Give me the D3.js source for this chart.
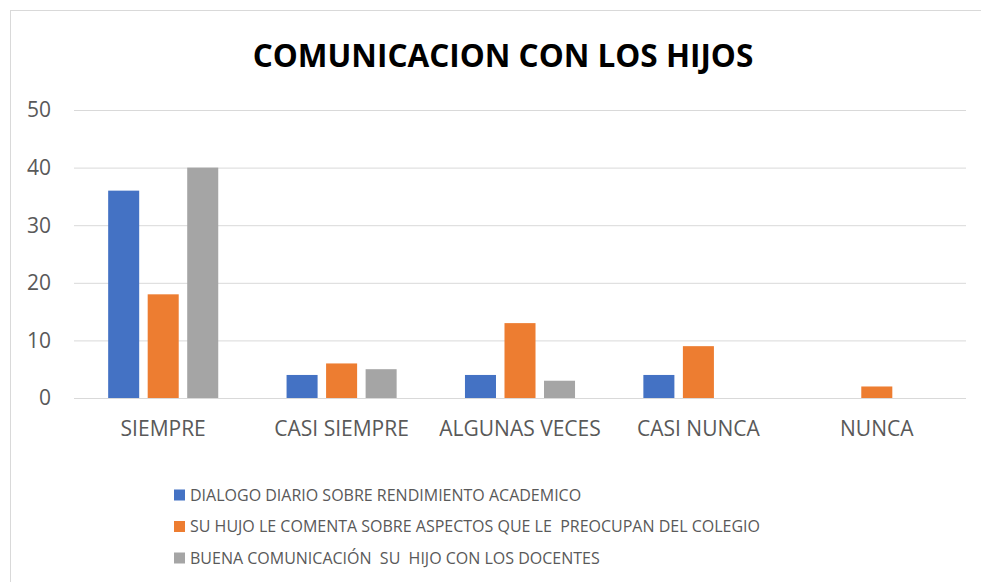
<!DOCTYPE html>
<html>
<head>
<meta charset="utf-8">
<script src="https://cdn.jsdelivr.net/npm/d3@7"></script>
<style>
  body { margin: 0; background: #fff; }
  text { font-family: "Open Sans", sans-serif; white-space: pre; }
</style>
</head>
<body>
<svg id="chart" width="981" height="582"></svg>
<script>
// data
let categories = ["SIEMPRE", "CASI SIEMPRE", "ALGUNAS VECES", "CASI NUNCA", "NUNCA"]
let seriesNames = [
  "DIALOGO DIARIO SOBRE RENDIMIENTO ACADEMICO",
  "SU HUJO LE COMENTA SOBRE ASPECTOS QUE LE  PREOCUPAN DEL COLEGIO",
  "BUENA COMUNICACIÓN  SU  HIJO CON LOS DOCENTES"
]
let dialogo = [36, 4, 4, 4, 0]
let comenta = [18, 6, 13, 9, 2]
let buena = [40, 5, 3, 0, 0]
let yTicks = [0, 10, 20, 30, 40, 50]
let colors = ["#4472c4", "#ed7d31", "#a5a5a5"]

let values = [dialogo, comenta, buena]

let svg = d3.select("#chart")

// outer chart frame
svg.append("rect")
  .attr("x", 10.5).attr("y", 10.5)
  .attr("width", 1000).attr("height", 600)
  .attr("fill", "none")
  .attr("stroke", "#d9d9d9")

svg.append("text")
  .attr("x", 503)
  .attr("y", 67)
  .attr("text-anchor", "middle")
  .attr("font-size", "31.5px")
  .attr("font-weight", "bold")
  .attr("fill", "#000")
  .text("COMUNICACION CON LOS HIJOS")

let pLeft = 74, pRight = 966, pTop = 110, pBottom = 398

let x0 = d3.scaleBand().domain(categories).range([pLeft, pRight])
  .paddingInner(0.383).paddingOuter(0.1915)
let x1 = d3.scaleBand().domain([0, 1, 2]).range([0, x0.bandwidth()]).paddingInner(0.215)
let y = d3.scaleLinear().domain([0, 50]).range([pBottom, pTop])

// grid
svg.append("g")
  .attr("transform", "translate(" + pLeft + ",0)")
  .call(d3.axisLeft(y).tickValues(yTicks).tickSize(-(pRight - pLeft)).tickFormat(""))
  .call(g => g.select(".domain").remove())
  .selectAll("line")
  .attr("stroke", "#d9d9d9")
  .attr("stroke-width", 1)

// y labels
svg.append("g")
  .selectAll("text")
  .data(yTicks)
  .enter()
  .append("text")
  .attr("x", 51)
  .attr("y", d => y(d))
  .attr("dy", "0.35em")
  .attr("text-anchor", "end")
  .attr("font-size", "21px")
  .attr("fill", "#595959")
  .text(d => d)

// bars
let groups = svg.append("g")
  .selectAll("g")
  .data(categories)
  .enter()
  .append("g")
  .attr("transform", d => "translate(" + x0(d) + ",0)")

groups.selectAll("rect")
  .data((d, i) => values.map((s, k) => ({k: k, v: s[i]})))
  .enter()
  .append("rect")
  .attr("x", d => x1(d.k))
  .attr("width", x1.bandwidth())
  .attr("y", d => y(d.v))
  .attr("height", d => y(0) - y(d.v))
  .attr("fill", d => colors[d.k])

// x labels
svg.append("g")
  .selectAll("text")
  .data(categories)
  .enter()
  .append("text")
  .attr("x", d => x0(d) + x0.bandwidth() / 2)
  .attr("y", 436)
  .attr("text-anchor", "middle")
  .attr("font-size", "21px")
  .attr("fill", "#595959")
  .text(d => d)

// legend
let legend = svg.append("g")
  .selectAll("g")
  .data(seriesNames)
  .enter()
  .append("g")
  .attr("transform", (d, i) => "translate(174," + (500.5 + i * 31.5) + ")")

legend.append("rect")
  .attr("x", 0).attr("y", -11)
  .attr("width", 11).attr("height", 11)
  .attr("fill", (d, i) => colors[i])

legend.append("text")
  .attr("x", 16)
  .attr("font-size", "16px")
  .attr("fill", "#595959")
  .text(d => d)
</script>
</body>
</html>
